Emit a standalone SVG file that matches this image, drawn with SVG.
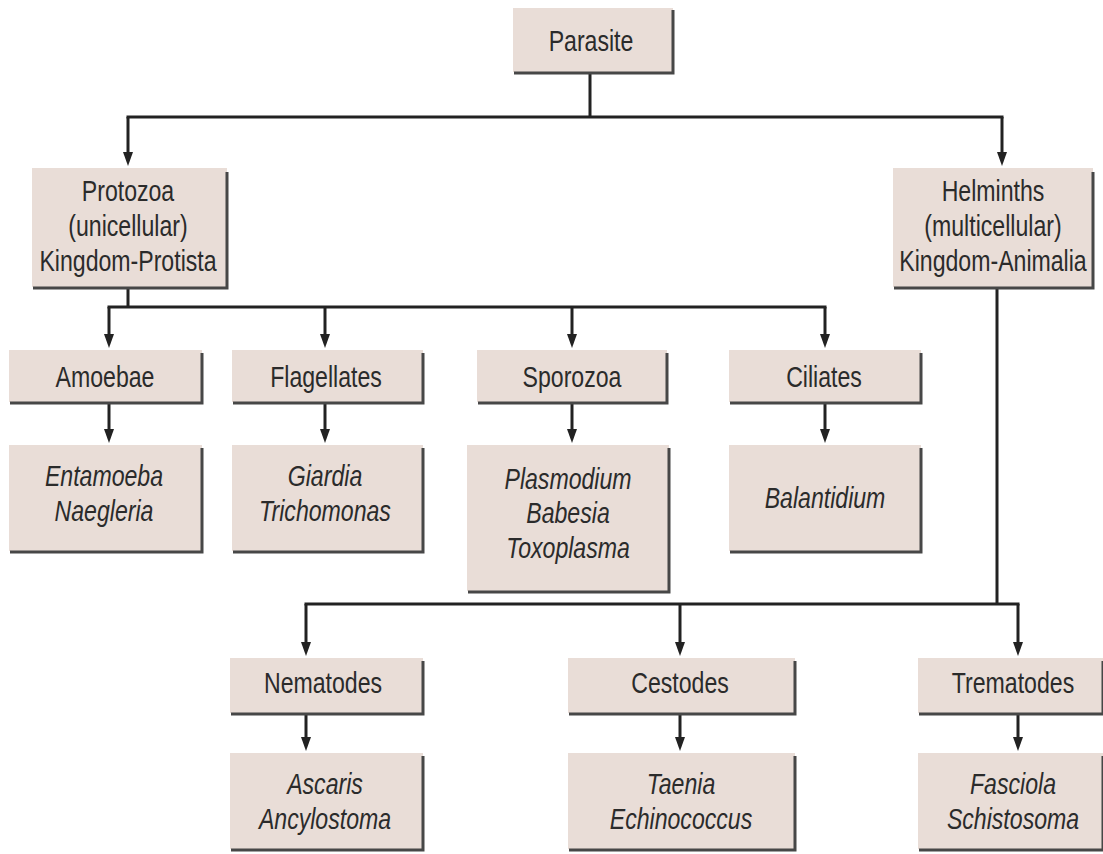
<svg xmlns="http://www.w3.org/2000/svg" width="1103" height="854" viewBox="0 0 1103 854">
<style>
.box{fill:#e9ddd7}
.sh{fill:none;stroke:#474747;stroke-width:3}
.t{font-family:"Liberation Sans",Arial,Helvetica,sans-serif;font-size:30px;fill:#2b2b2b;text-anchor:middle}
.i{font-style:italic}
.c{fill:none;stroke:#222;stroke-width:3}
.a{fill:none;stroke:#222;stroke-width:3;marker-end:url(#ahd)}
</style>
<defs>
<marker id="ahd" markerUnits="userSpaceOnUse" markerWidth="14" markerHeight="10" refX="4" refY="5" orient="auto" viewBox="0 0 14 10">
<path d="M0 0 L14 5 L0 10 Z" fill="#222"/>
</marker>
</defs>
<rect width="1103" height="854" fill="#fff"/>

<g id="connectors">
<path class="c" d="M590 72 V117 M126.5 117 H1003.5"/>
<path class="c" d="M128 287 V307 M107.5 307 H826.5"/>
<path class="c" d="M997 287 V604 M304.5 604 H1019.5"/>
<path class="a" d="M128 117 V156"/>
<path class="a" d="M1002 117 V156"/>
<path class="a" d="M109 307 V338"/>
<path class="a" d="M325 307 V338"/>
<path class="a" d="M572 307 V338"/>
<path class="a" d="M825 307 V338"/>
<path class="a" d="M109 404 V433"/>
<path class="a" d="M325 404 V433"/>
<path class="a" d="M572 404 V433"/>
<path class="a" d="M825 404 V433"/>
<path class="a" d="M306 604 V646"/>
<path class="a" d="M680 604 V646"/>
<path class="a" d="M1018 604 V646"/>
<path class="a" d="M306 715 V741"/>
<path class="a" d="M680 715 V741"/>
<path class="a" d="M1018 715 V741"/>
</g>

<g id="parasite">
<rect class="box" x="513" y="8" width="160" height="64"/>
<path class="sh" d="M673 10 V73 H514"/>
<text class="t" transform="translate(591 51) scale(.77 1)">Parasite</text>
</g>

<g id="protozoa">
<rect class="box" x="32" y="168" width="195" height="119"/>
<path class="sh" d="M227 172 V288 H33"/>
<text class="t" transform="translate(128 201) scale(.77 1)"><tspan x="0" y="0">Protozoa</tspan><tspan x="0" y="35">(unicellular)</tspan><tspan x="0" y="70">Kingdom-Protista</tspan></text>
</g>

<g id="helminths">
<rect class="box" x="893" y="168" width="200" height="119"/>
<path class="sh" d="M1093 172 V288 H894"/>
<text class="t" transform="translate(993 201) scale(.77 1)"><tspan x="0" y="0">Helminths</tspan><tspan x="0" y="35">(multicellular)</tspan><tspan x="0" y="70">Kingdom-Animalia</tspan></text>
</g>

<g id="amoebae">
<rect class="box" x="9" y="350" width="193" height="52"/>
<path class="sh" d="M202 353 V403 H10"/>
<text class="t" transform="translate(105 387) scale(.77 1)">Amoebae</text>
</g>

<g id="flagellates">
<rect class="box" x="232" y="350" width="191" height="52"/>
<path class="sh" d="M423 353 V403 H233"/>
<text class="t" transform="translate(326 387) scale(.77 1)">Flagellates</text>
</g>

<g id="sporozoa">
<rect class="box" x="477" y="350" width="190" height="52"/>
<path class="sh" d="M667 353 V403 H478"/>
<text class="t" transform="translate(572 387) scale(.77 1)">Sporozoa</text>
</g>

<g id="ciliates">
<rect class="box" x="729" y="350" width="192" height="52"/>
<path class="sh" d="M921 353 V403 H730"/>
<text class="t" transform="translate(824 387) scale(.77 1)">Ciliates</text>
</g>

<g id="entamoeba">
<rect class="box" x="9" y="445" width="193" height="106"/>
<path class="sh" d="M202 448 V552 H10"/>
<text class="t i" transform="translate(104 486) scale(.77 1)"><tspan x="0" y="0">Entamoeba</tspan><tspan x="0" y="35">Naegleria</tspan></text>
</g>

<g id="giardia">
<rect class="box" x="232" y="445" width="191" height="106"/>
<path class="sh" d="M423 448 V552 H233"/>
<text class="t i" transform="translate(325 486) scale(.77 1)"><tspan x="0" y="0">Giardia</tspan><tspan x="0" y="35">Trichomonas</tspan></text>
</g>

<g id="plasmodium">
<rect class="box" x="467" y="445" width="202" height="146"/>
<path class="sh" d="M669 448 V592 H468"/>
<text class="t i" transform="translate(568 489) scale(.77 1)"><tspan x="0" y="0">Plasmodium</tspan><tspan x="0" y="34.5">Babesia</tspan><tspan x="0" y="69">Toxoplasma</tspan></text>
</g>

<g id="balantidium">
<rect class="box" x="729" y="445" width="192" height="106"/>
<path class="sh" d="M921 448 V552 H730"/>
<text class="t i" transform="translate(825 508) scale(.77 1)">Balantidium</text>
</g>

<g id="nematodes">
<rect class="box" x="230" y="658" width="193" height="55"/>
<path class="sh" d="M423 661 V714 H231"/>
<text class="t" transform="translate(323 693) scale(.77 1)">Nematodes</text>
</g>

<g id="cestodes">
<rect class="box" x="568" y="658" width="227" height="55"/>
<path class="sh" d="M795 661 V714 H569"/>
<text class="t" transform="translate(680 693) scale(.77 1)">Cestodes</text>
</g>

<g id="trematodes">
<rect class="box" x="918" y="658" width="186" height="55"/>
<path class="sh" d="M1103 661 V714 H919"/>
<text class="t" transform="translate(1013 693) scale(.77 1)">Trematodes</text>
</g>

<g id="ascaris">
<rect class="box" x="230" y="753" width="193" height="96"/>
<path class="sh" d="M423 756 V850 H231"/>
<text class="t i" transform="translate(325 794) scale(.77 1)"><tspan x="0" y="0">Ascaris</tspan><tspan x="0" y="35">Ancylostoma</tspan></text>
</g>

<g id="taenia">
<rect class="box" x="568" y="753" width="227" height="96"/>
<path class="sh" d="M795 756 V850 H569"/>
<text class="t i" transform="translate(681 794) scale(.77 1)"><tspan x="0" y="0">Taenia</tspan><tspan x="0" y="35">Echinococcus</tspan></text>
</g>

<g id="fasciola">
<rect class="box" x="918" y="753" width="186" height="96"/>
<path class="sh" d="M1103 756 V850 H919"/>
<text class="t i" transform="translate(1013 794) scale(.77 1)"><tspan x="0" y="0">Fasciola</tspan><tspan x="0" y="35">Schistosoma</tspan></text>
</g>
</svg>
